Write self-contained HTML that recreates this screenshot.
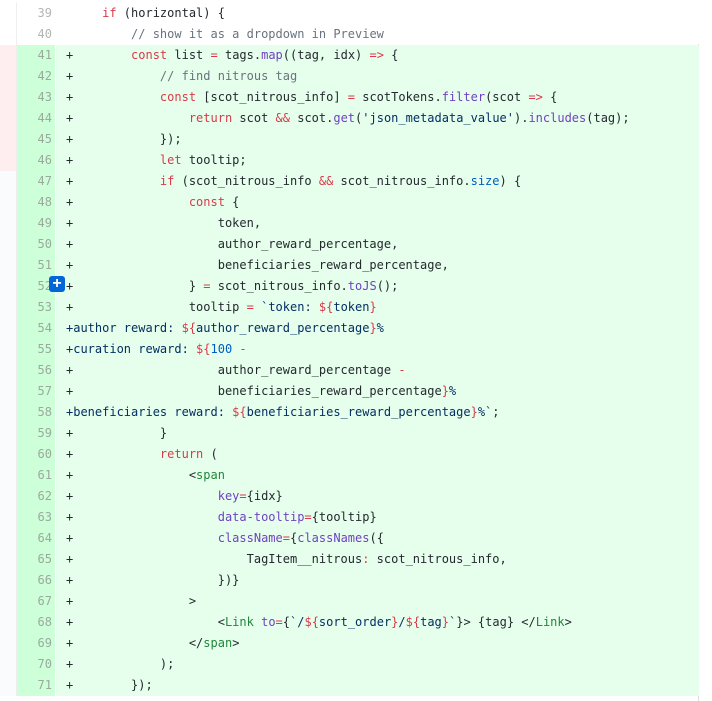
<!DOCTYPE html>
<html><head><style>
body{margin:0;width:712px;height:701px;background:#fff;overflow:hidden;font-family:"DejaVu Sans Mono","Liberation Mono",monospace;font-size:12px;color:#24292e}
.r{position:absolute;left:0;height:21px;width:699px}
.g{position:absolute;left:0;top:0;width:16px;height:21px;border-right:1px solid #eee}
.n{position:absolute;left:17px;top:0;width:38px;height:21px;line-height:21px;text-align:right;color:#b0b7b0;box-sizing:border-box;padding-right:3px}
.c{position:absolute;left:56px;top:0;right:0;height:21px;line-height:21px;white-space:pre;padding-left:10px}
.a .n{background:#cdffd8;color:#9aaa9d}.a .c{background:#e6ffed}
.k{color:#d73a49}.m{color:#6a737d}.f{color:#6f42c1}.s{color:#032f62}.b{color:#005cc5}.t{color:#22863a}
#edge{position:absolute;left:698px;top:44px;width:1px;height:657px;background:#ddd}
</style></head><body>
<div id="edge"></div>
<div class="r" style="top:3px"><div class="g" style="background:#fff"></div><div class="n">39</div><div class="c">     <span class="k">if</span> (horizontal) {</div></div>
<div class="r" style="top:24px"><div class="g" style="background:#fff"></div><div class="n">40</div><div class="c">         <span class="m">// show it as a dropdown in Preview</span></div></div>
<div id="rows"></div>
<div style="position:absolute;left:49px;top:276px;width:16px;height:16px;background:#0366d6;border-radius:3px;color:#fff;font:bold 16px/16px 'Liberation Sans',sans-serif;text-align:center">+</div>
<script>
const L=[
['41','+        <span class="k">const</span> list <span class="k">=</span> tags.<span class="f">map</span>((tag, idx) <span class="k">=&gt;</span> {'],
['42','+            <span class="m">// find nitrous tag</span>'],
['43','+            <span class="k">const</span> [scot_nitrous_info] <span class="k">=</span> scotTokens.<span class="f">filter</span>(scot <span class="k">=&gt;</span> {'],
['44','+                <span class="k">return</span> scot <span class="k">&amp;&amp;</span> scot.<span class="f">get</span>(<span class="s">\'json_metadata_value\'</span>).<span class="f">includes</span>(tag);'],
['45','+            });'],
['46','+            <span class="k">let</span> tooltip;'],
['47','+            <span class="k">if</span> (scot_nitrous_info <span class="k">&amp;&amp;</span> scot_nitrous_info.<span class="b">size</span>) {'],
['48','+                <span class="k">const</span> {'],
['49','+                    token,'],
['50','+                    author_reward_percentage,'],
['51','+                    beneficiaries_reward_percentage,'],
['52','+                } <span class="k">=</span> scot_nitrous_info.<span class="f">toJS</span>();'],
['53','+                tooltip <span class="k">=</span> <span class="s">`token: <span class="k">${</span>token<span class="k">}</span></span>'],
['54','<span class="s">+author reward: <span class="k">${</span>author_reward_percentage<span class="k">}</span>%</span>'],
['55','<span class="s">+curation reward: <span class="k">${</span><span class="b">100</span> <span class="k">-</span></span>'],
['56','+                    author_reward_percentage <span class="k">-</span>'],
['57','+                    beneficiaries_reward_percentage<span class="k">}</span><span class="s">%</span>'],
['58','<span class="s">+beneficiaries reward: <span class="k">${</span>beneficiaries_reward_percentage<span class="k">}</span>%`</span>;'],
['59','+            }'],
['60','+            <span class="k">return</span> ('],
['61','+                &lt;<span class="t">span</span>'],
['62','+                    <span class="f">key</span><span class="k">=</span>{idx}'],
['63','+                    <span class="f">data-tooltip</span><span class="k">=</span>{tooltip}'],
['64','+                    <span class="f">className</span><span class="k">=</span>{<span class="f">classNames</span>({'],
['65','+                        TagItem__nitrous<span class="k">:</span> scot_nitrous_info,'],
['66','+                    })}'],
['67','+                &gt;'],
['68','+                    &lt;<span class="t">Link</span> <span class="f">to</span><span class="k">=</span>{<span class="s">`/<span class="k">${</span>sort_order<span class="k">}</span>/<span class="k">${</span>tag<span class="k">}</span>`</span>}&gt; {tag} &lt;/<span class="t">Link</span>&gt;'],
['69','+                &lt;/<span class="t">span</span>&gt;'],
['70','+            );'],
['71','+        });']];
let h='';L.forEach((l,i)=>{const n=+l[0];const gb=n<=46?'#ffeef0':'#fafbfc';
h+=`<div class="r a" style="top:${45+i*21}px"><div class="g" style="background:${gb}"></div><div class="n">${l[0]}</div><div class="c">${l[1]}</div></div>`;});
document.getElementById('rows').outerHTML=h;
</script>
</body></html>
